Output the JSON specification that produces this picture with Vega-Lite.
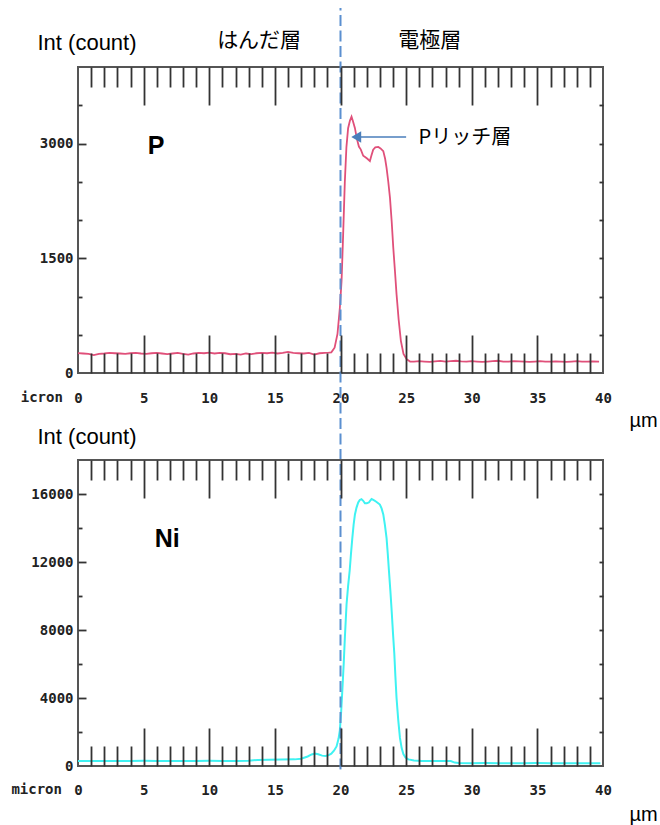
{
  "$schema": "https://vega.github.io/schema/vega-lite/v6.json",
  "padding": {"left": 10, "top": 6, "right": 0, "bottom": 0},
  "bounds": "flush",
  "spacing": 87,
  "config": {
    "view": {"stroke": "#555", "strokeWidth": 2},
    "axis": {"grid": false, "domain": false, "labelFont": "DejaVu Sans Mono", "labelFontWeight": "bold", "labelFontSize": 14, "labelColor": "#222", "tickColor": "#333", "tickWidth": 1.8, "labelFlush": false, "labelOverlap": false, "format": "d", "titleFont": "Liberation Sans", "titleFontWeight": "normal", "titleColor": "#000", "titleFontSize": 22}
  },
  "vconcat": [
    {
      "width": 525,
      "height": 306,
      "resolve": {"axis": {"x": "independent", "y": "independent"}},
      "layer": [
        {
          "data": {"values": [
            {"x":0,"c":260},{"x":0.4,"c":255},{"x":0.8,"c":250},{"x":1.2,"c":235},{"x":1.6,"c":250},{"x":2,"c":255},{"x":2.4,"c":262},{"x":2.8,"c":258},{"x":3.2,"c":255},{"x":3.6,"c":250},{"x":4,"c":258},{"x":4.4,"c":262},{"x":4.8,"c":255},{"x":5.2,"c":250},{"x":5.6,"c":258},{"x":6,"c":262},{"x":6.4,"c":255},{"x":6.8,"c":248},{"x":7.2,"c":255},{"x":7.6,"c":262},{"x":8,"c":250},{"x":8.4,"c":240},{"x":8.8,"c":255},{"x":9.2,"c":262},{"x":9.6,"c":258},{"x":10,"c":265},{"x":10.4,"c":255},{"x":10.8,"c":262},{"x":11.2,"c":258},{"x":11.6,"c":245},{"x":12,"c":250},{"x":12.4,"c":240},{"x":12.8,"c":255},{"x":13.2,"c":248},{"x":13.6,"c":258},{"x":14,"c":262},{"x":14.4,"c":258},{"x":14.8,"c":265},{"x":15.2,"c":255},{"x":15.6,"c":262},{"x":16,"c":275},{"x":16.4,"c":262},{"x":16.8,"c":258},{"x":17.2,"c":255},{"x":17.6,"c":262},{"x":18,"c":240},{"x":18.4,"c":258},{"x":18.8,"c":262},{"x":19.1,"c":265},
            {"x":19.3,"c":270},{"x":19.55,"c":330},{"x":19.77,"c":510},{"x":19.95,"c":850},{"x":20.08,"c":1200},{"x":20.2,"c":1800},{"x":20.33,"c":2500},{"x":20.45,"c":2950},{"x":20.58,"c":3200},{"x":20.72,"c":3300},{"x":20.84,"c":3350},{"x":20.95,"c":3290},{"x":21.1,"c":3200},{"x":21.25,"c":3060},{"x":21.4,"c":2960},{"x":21.55,"c":2920},{"x":21.73,"c":2840},{"x":21.9,"c":2820},{"x":22.05,"c":2800},{"x":22.24,"c":2770},{"x":22.35,"c":2840},{"x":22.49,"c":2920},{"x":22.65,"c":2950},{"x":22.88,"c":2955},{"x":23.05,"c":2935},{"x":23.26,"c":2900},{"x":23.4,"c":2800},{"x":23.51,"c":2680},{"x":23.64,"c":2500},{"x":23.77,"c":2290},{"x":23.9,"c":1980},{"x":24.02,"c":1640},{"x":24.15,"c":1330},{"x":24.27,"c":1030},{"x":24.43,"c":700},{"x":24.6,"c":420},{"x":24.8,"c":250},{"x":25.04,"c":180},
            {"x":25.3,"c":150},{"x":25.6,"c":148},{"x":26,"c":155},{"x":26.4,"c":150},{"x":26.8,"c":145},{"x":27.2,"c":152},{"x":27.6,"c":158},{"x":28,"c":150},{"x":28.4,"c":155},{"x":28.8,"c":160},{"x":29.2,"c":152},{"x":29.6,"c":148},{"x":30,"c":155},{"x":30.4,"c":150},{"x":30.8,"c":145},{"x":31.2,"c":150},{"x":31.6,"c":155},{"x":32,"c":160},{"x":32.4,"c":150},{"x":32.8,"c":148},{"x":33.2,"c":155},{"x":33.6,"c":152},{"x":34,"c":150},{"x":34.4,"c":145},{"x":34.8,"c":150},{"x":35.2,"c":155},{"x":35.6,"c":150},{"x":36,"c":148},{"x":36.4,"c":152},{"x":36.8,"c":150},{"x":37.2,"c":145},{"x":37.6,"c":150},{"x":38,"c":155},{"x":38.4,"c":150},{"x":38.8,"c":148},{"x":39.2,"c":152},{"x":39.7,"c":150}
          ]},
          "mark": {"type": "line", "color": "#e0507a", "strokeWidth": 1.8},
          "encoding": {
            "x": {"field": "x", "type": "quantitative", "scale": {"domain": [0, 40], "nice": false, "zero": false},
              "axis": {"orient": "bottom", "values": [0,5,10,15,20,25,30,35,40], "ticks": false, "labelPadding": 25, "labelBaseline": "middle", "title": "µm", "titleX": 565, "titleY": 47, "titleAlign": "center", "titleBaseline": "middle", "titleFontSize": 20}},
            "y": {"field": "c", "type": "quantitative", "scale": {"domain": [0, 4000], "nice": false},
              "axis": {"orient": "left", "values": [0,1500,3000], "ticks": false, "labelPadding": 5, "title": "Int (count)", "titleAngle": 0, "titleX": -41, "titleY": -25, "titleAlign": "left", "titleBaseline": "middle"}}
          }
        },
        {
          "data": {"values": [{"line": "boundary"}]},
          "mark": {"type": "rule", "color": "#5b8fd0", "strokeWidth": 2, "strokeDash": [11, 4.5]},
          "encoding": {
            "x": {"datum": 20, "type": "quantitative",
              "axis": {"orient": "bottom", "values": [1,2,3,4,5,6,7,8,9,10,11,12,13,14,15,16,17,18,19,20,21,22,23,24,25,26,27,28,29,30,31,32,33,34,35,36,37,38,39], "labels": false, "title": null, "zindex": 1, "tickSize": {"condition": {"test": "datum.value % 5 === 0", "value": -38}, "value": -20}}},
            "y": {"datum": -1137, "type": "quantitative",
              "axis": {"orient": "left", "values": [500,1000,1500,2000,2500,3000,3500], "labels": false, "title": null, "zindex": 1, "tickSize": {"condition": {"test": "datum.value % 1500 === 0", "value": -8}, "value": -4}}},
            "y2": {"datum": 4771}
          }
        },
        {
          "data": {"values": [{"label": "P"}]},
          "mark": {"type": "text", "font": "Liberation Sans", "fontWeight": "bold", "fontSize": 25, "color": "#000", "align": "center", "baseline": "middle"},
          "encoding": {
            "x": {"datum": 5.95, "type": "quantitative",
              "axis": {"orient": "top", "values": [1,2,3,4,5,6,7,8,9,10,11,12,13,14,15,16,17,18,19,20,21,22,23,24,25,26,27,28,29,30,31,32,33,34,35,36,37,38,39], "labels": false, "title": null, "zindex": 1, "tickSize": {"condition": {"test": "datum.value % 5 === 0", "value": -38}, "value": -20}}},
            "y": {"datum": 2967, "type": "quantitative",
              "axis": {"orient": "right", "values": [500,1000,1500,2000,2500,3000,3500], "labels": false, "title": null, "zindex": 1, "tickSize": -4}},
            "text": {"field": "label"}
          }
        },
        {
          "data": {"values": [{"label": "はんだ層", "x": 13.8}, {"label": "電極層", "x": 26.8}]},
          "mark": {"type": "text", "font": "Noto Sans CJK JP", "fontSize": 21, "color": "#000", "align": "center", "baseline": "middle"},
          "encoding": {
            "x": {"field": "x", "type": "quantitative", "axis": null},
            "y": {"datum": 4340, "type": "quantitative", "axis": null},
            "text": {"field": "label"}
          }
        },
        {
          "data": {"values": [{"label": "Pリッチ層"}]},
          "mark": {"type": "text", "font": "Noto Sans CJK JP", "fontSize": 20, "color": "#000", "align": "left", "baseline": "middle"},
          "encoding": {
            "x": {"datum": 25.95, "type": "quantitative", "axis": null},
            "y": {"datum": 3072, "type": "quantitative", "axis": null},
            "text": {"field": "label"}
          }
        },
        {
          "data": {"values": [{"label": "arrow"}]},
          "mark": {"type": "rule", "color": "#4a7ebb", "strokeWidth": 1.5},
          "encoding": {
            "x": {"datum": 25.0, "type": "quantitative", "axis": null},
            "x2": {"datum": 21.55},
            "y": {"datum": 3085, "type": "quantitative", "axis": null}
          }
        },
        {
          "data": {"values": [{"label": "arrowhead"}]},
          "mark": {"type": "point", "shape": "triangle-left", "filled": true, "color": "#4a7ebb", "opacity": 1, "size": 130},
          "encoding": {
            "x": {"datum": 21.2, "type": "quantitative", "axis": null},
            "y": {"datum": 3085, "type": "quantitative", "axis": null}
          }
        },
        {
          "data": {"values": [{"label": "icron"}]},
          "mark": {"type": "text", "font": "DejaVu Sans Mono", "fontWeight": "bold", "fontSize": 14, "color": "#222", "align": "right", "baseline": "middle"},
          "encoding": {
            "x": {"datum": -1.15, "type": "quantitative", "axis": null},
            "y": {"datum": -327, "type": "quantitative", "axis": null},
            "text": {"field": "label"}
          }
        }
      ]
    },
    {
      "width": 525,
      "height": 306,
      "resolve": {"axis": {"x": "independent", "y": "independent"}},
      "layer": [
        {
          "data": {"values": [
            {"x":0,"c":300},{"x":1,"c":295},{"x":2,"c":300},{"x":3,"c":298},{"x":4,"c":300},{"x":5,"c":302},{"x":6,"c":298},{"x":7,"c":300},{"x":8,"c":296},{"x":9,"c":300},{"x":10,"c":302},{"x":11,"c":298},{"x":12,"c":300},{"x":13,"c":310},{"x":13.7,"c":360},{"x":14.5,"c":370},{"x":15.5,"c":380},{"x":16.5,"c":390},{"x":17,"c":430},{"x":17.5,"c":560},{"x":17.8,"c":680},{"x":18.05,"c":730},{"x":18.3,"c":690},{"x":18.6,"c":610},{"x":18.86,"c":590},{"x":19.1,"c":640},{"x":19.3,"c":720},{"x":19.5,"c":900},{"x":19.7,"c":1150},{"x":19.85,"c":1600},{"x":19.95,"c":2100},{"x":20.05,"c":3200},{"x":20.15,"c":4600},{"x":20.25,"c":6100},{"x":20.33,"c":7500},{"x":20.46,"c":9500},{"x":20.58,"c":10600},{"x":20.7,"c":11500},{"x":20.8,"c":12500},{"x":20.9,"c":13400},{"x":21,"c":14200},{"x":21.1,"c":14800},{"x":21.22,"c":15200},{"x":21.35,"c":15500},{"x":21.47,"c":15650},{"x":21.6,"c":15700},{"x":21.73,"c":15600},{"x":21.86,"c":15450},{"x":22,"c":15450},{"x":22.16,"c":15500},{"x":22.28,"c":15620},{"x":22.37,"c":15700},{"x":22.5,"c":15650},{"x":22.62,"c":15600},{"x":22.8,"c":15500},{"x":23,"c":15380},{"x":23.13,"c":15150},{"x":23.26,"c":14800},{"x":23.38,"c":14200},{"x":23.51,"c":13400},{"x":23.6,"c":12500},{"x":23.69,"c":11500},{"x":23.8,"c":10300},{"x":23.9,"c":9100},{"x":24,"c":7800},{"x":24.1,"c":6600},{"x":24.18,"c":5300},{"x":24.27,"c":4000},{"x":24.4,"c":2700},{"x":24.53,"c":1650},{"x":24.66,"c":1050},{"x":24.79,"c":700},{"x":24.95,"c":500},{"x":25.17,"c":390},{"x":25.6,"c":330},{"x":26.2,"c":300},{"x":27,"c":295},{"x":27.8,"c":300},{"x":28.4,"c":290},{"x":28.7,"c":200},{"x":29,"c":170},{"x":30,"c":165},{"x":31,"c":170},{"x":32,"c":165},{"x":33,"c":160},{"x":34,"c":165},{"x":35,"c":170},{"x":36,"c":165},{"x":37,"c":160},{"x":38,"c":165},{"x":39,"c":160},{"x":39.8,"c":165}
          ]},
          "mark": {"type": "line", "color": "#3ff2f2", "strokeWidth": 2},
          "encoding": {
            "x": {"field": "x", "type": "quantitative", "scale": {"domain": [0, 40], "nice": false, "zero": false},
              "axis": {"orient": "bottom", "values": [0,5,10,15,20,25,30,35,40], "ticks": false, "labelPadding": 24, "labelBaseline": "middle", "title": "µm", "titleX": 565, "titleY": 48, "titleAlign": "center", "titleBaseline": "middle", "titleFontSize": 20}},
            "y": {"field": "c", "type": "quantitative", "scale": {"domain": [0, 18000], "nice": false},
              "axis": {"orient": "left", "values": [0,4000,8000,12000,16000], "ticks": false, "labelPadding": 5, "title": "Int (count)", "titleAngle": 0, "titleX": -41, "titleY": -24, "titleAlign": "left", "titleBaseline": "middle"}}
          }
        },
        {
          "data": {"values": [{"line": "boundary"}]},
          "mark": {"type": "rule", "color": "#5b8fd0", "strokeWidth": 2, "strokeDash": [11, 4.5]},
          "encoding": {
            "x": {"datum": 20, "type": "quantitative",
              "axis": {"orient": "bottom", "values": [1,2,3,4,5,6,7,8,9,10,11,12,13,14,15,16,17,18,19,20,21,22,23,24,25,26,27,28,29,30,31,32,33,34,35,36,37,38,39], "labels": false, "title": null, "zindex": 1, "tickSize": {"condition": {"test": "datum.value % 5 === 0", "value": -38}, "value": -20}}},
            "y": {"datum": -200, "type": "quantitative",
              "axis": {"orient": "left", "values": [2000,4000,6000,8000,10000,12000,14000,16000], "labels": false, "title": null, "zindex": 1, "tickSize": {"condition": {"test": "datum.value % 4000 === 0", "value": -8}, "value": -4}}},
            "y2": {"datum": 18000}
          }
        },
        {
          "data": {"values": [{"label": "Ni"}]},
          "mark": {"type": "text", "font": "Liberation Sans", "fontWeight": "bold", "fontSize": 25, "color": "#000", "align": "center", "baseline": "middle"},
          "encoding": {
            "x": {"datum": 6.8, "type": "quantitative",
              "axis": {"orient": "top", "values": [1,2,3,4,5,6,7,8,9,10,11,12,13,14,15,16,17,18,19,20,21,22,23,24,25,26,27,28,29,30,31,32,33,34,35,36,37,38,39], "labels": false, "title": null, "zindex": 1, "tickSize": {"condition": {"test": "datum.value % 5 === 0", "value": -38}, "value": -20}}},
            "y": {"datum": 13353, "type": "quantitative",
              "axis": {"orient": "right", "values": [2000,4000,6000,8000,10000,12000,14000,16000], "labels": false, "title": null, "zindex": 1, "tickSize": -4}},
            "text": {"field": "label"}
          }
        },
        {
          "data": {"values": [{"label": "micron"}]},
          "mark": {"type": "text", "font": "DejaVu Sans Mono", "fontWeight": "bold", "fontSize": 14, "color": "#222", "align": "right", "baseline": "middle"},
          "encoding": {
            "x": {"datum": -1.22, "type": "quantitative", "axis": null},
            "y": {"datum": -1412, "type": "quantitative", "axis": null},
            "text": {"field": "label"}
          }
        }
      ]
    }
  ]
}
